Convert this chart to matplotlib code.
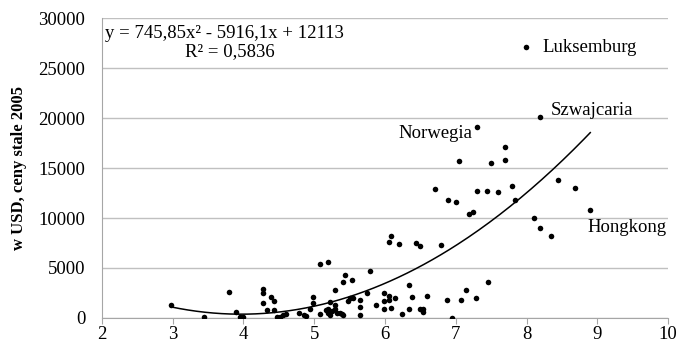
import numpy as np
import matplotlib
matplotlib.use('Agg')
import matplotlib.pyplot as plt

plt.rcParams['font.family'] = ['Liberation Serif', 'DejaVu Serif']

# wartości
x_vals = [2.98, 3.45, 3.79, 3.89, 3.95, 3.99, 4.28, 4.28, 4.28, 4.34, 4.39, 4.43, 4.43,
          4.47, 4.52, 4.56, 4.60, 4.78, 4.85, 4.89, 4.94, 4.99, 4.99,
          5.08, 5.19, 5.08, 5.17, 5.20, 5.25, 5.19, 5.22, 5.23, 5.29, 5.29, 5.29, 5.32,
          5.36, 5.39, 5.41, 5.40, 5.43, 5.54, 5.48, 5.51, 5.55, 5.65, 5.65, 5.65, 5.74,
          5.79, 5.88, 5.99, 6.05, 5.99, 6.05, 5.99, 6.08, 6.14, 6.24, 6.34, 6.38, 6.34,
          6.49, 6.53, 6.53, 6.59, 6.88, 6.94, 7.08, 7.14, 7.29, 7.45,
          6.05, 6.08, 6.20, 6.44, 6.49, 6.79, 6.70, 6.89, 7.00, 7.18, 7.24, 7.30, 7.44,
          7.59, 7.80, 7.84, 7.04, 7.50, 7.69, 7.69, 7.30, 8.19, 7.99, 8.10, 8.19, 8.34,
          8.45, 8.69, 8.90]
y_vals = [1270, 70, 2630, 630, 130, 100, 2870, 2530, 1500, 770, 2130, 1650, 830,
          100, 100, 270, 420, 450, 320, 200, 930, 1470, 2050,
          5370, 5570, 400, 800, 870, 730, 470, 300, 1630, 2830, 1300, 870, 470,
          530, 400, 300, 3600, 4300, 3770, 1730, 1970, 2030, 1800, 1100, 330, 2530,
          4650, 1270, 2530, 2200, 1670, 1800, 930, 1000, 2000, 370, 3330, 2100, 870,
          870, 930, 600, 2200, 1750, 30, 1830, 2770, 2030, 3570,
          7600, 8230, 7370, 7500, 7200, 7270, 12880, 11780, 11620, 10450, 10570, 12700, 12670,
          12570, 13180, 11780, 15730, 15530, 15800, 17070, 19070, 20130, 27070, 10030, 9020, 8230,
          13780, 13030, 10830]

# trend wielomianowy (współczynniki z równania na wykresie)
coef = [745.85, -5916.1, 12113]

labels = ['Luksemburg', 'Szwajcaria', 'Norwegia', 'Hongkong']
label_x = [8.22, 8.34, 7.23, 8.86]
label_y = [27070, 20800, 18500, 9100]
label_ha = ['left', 'left', 'right', 'left']

fs = 13.5

fig = plt.figure(figsize=(6.79, 3.44), dpi=100)
ax = fig.add_axes([0.150, 0.0756, 0.834, 0.872])

ax.scatter(x_vals, y_vals, s=16, color='black', zorder=3, linewidths=0)

xt = np.linspace(min(x_vals), max(x_vals), 200)
ax.plot(xt, np.polyval(coef, xt), color='black', linewidth=1.1, zorder=2)

for t, lx, ly, ha in zip(labels, label_x, label_y, label_ha):
    ax.text(lx, ly, t, ha=ha, va='center', fontsize=fs)

ax.text(2.05, 28500, 'y = 745,85x² - 5916,1x + 12113', fontsize=fs, va='center')
ax.text(3.17, 26600, 'R² = 0,5836', fontsize=fs, va='center')

ax.set_xlim(2, 10)
ax.set_ylim(0, 30000)
ax.set_xticks(range(2, 11))
ax.set_yticks(range(0, 30001, 5000))
ax.grid(axis='y', color='#c0c0c0', linewidth=1)
ax.set_axisbelow(True)
for s in ['top', 'right']:
    ax.spines[s].set_visible(False)
ax.spines['left'].set_color('#a6a6a6')
ax.spines['bottom'].set_color('#a6a6a6')
ax.tick_params(axis='y', length=0, labelsize=fs, pad=12)
ax.tick_params(axis='x', length=4, color='#a6a6a6', labelsize=fs, pad=2)
ax.set_ylabel('w USD, ceny stale 2005', fontsize=12, fontweight='bold', labelpad=8)

plt.savefig('out.png', dpi=100)
